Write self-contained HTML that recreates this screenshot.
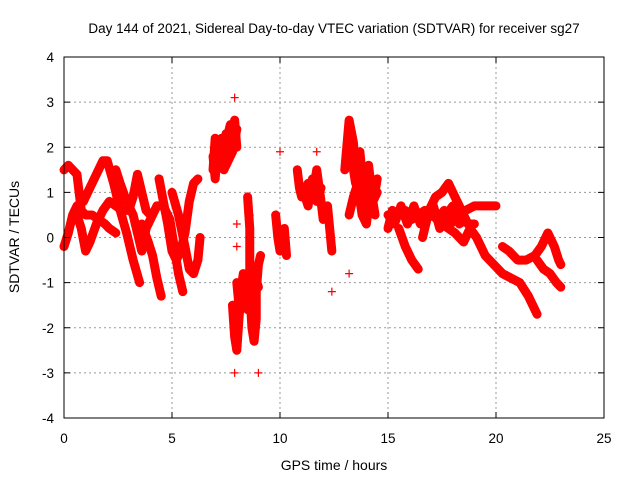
<!DOCTYPE html>
<html><head><meta charset="utf-8"><style>
body{margin:0;background:#fff}
svg{display:block;font-family:"Liberation Sans",sans-serif}
</style></head><body>
<svg id="chart" width="640" height="480" viewBox="0 0 640 480">
<text x="334" y="33" font-size="13.5" text-anchor="middle">Day 144 of 2021, Sidereal Day-to-day VTEC variation (SDTVAR) for receiver sg27</text>
<g id="grid"></g>
<g id="marks"></g>
<rect x="64" y="57" width="540" height="361" fill="none" stroke="#000" stroke-width="1"/>
<g id="ticks"></g>
<text x="334" y="470" font-size="14" text-anchor="middle">GPS time / hours</text>
<text x="19" y="237" font-size="14" text-anchor="middle" transform="rotate(-90 19 237)">SDTVAR / TECUs</text>
</svg>
<script>
const xTicks=[0,5,10,15,20,25];
const yTicks=[-4,-3,-2,-1,0,1,2,3,4];
const track1=[[0,1.5],[0.2,1.6],[0.4,1.5],[0.6,1.4],[0.7,1.0],[0.8,0.6],[1.0,0.5],[1.3,0.5],[1.6,0.4],[1.9,0.3],[2.1,0.2],[2.4,0.1]];
const track2=[[0,-0.2],[0.2,0.1],[0.4,0.5],[0.6,0.7],[0.9,0.8],[1.2,1.1],[1.5,1.4],[1.8,1.7],[2.0,1.7],[2.3,1.2],[2.6,0.6],[2.9,0.1],[3.2,-0.5],[3.5,-1.0]];
const track3=[[0.6,0.5],[0.8,0.2],[1.0,-0.3],[1.2,-0.1],[1.5,0.3],[1.8,0.6],[2.1,0.8],[2.4,0.7],[2.7,0.6],[3.0,0.6],[3.2,0.9],[3.4,1.4],[3.6,1.0],[3.8,0.6],[4.0,0.5]];
const track4=[[2.4,1.5],[2.6,1.2],[2.9,0.8],[3.2,0.5],[3.4,0.1],[3.6,-0.3],[3.8,0.2],[4.0,0.4],[4.3,0.7],[4.6,0.7],[4.9,0.4],[5.1,-0.2],[5.3,-0.8],[5.5,-1.2]];
const track5=[[3.6,0.3],[3.9,-0.1],[4.1,-0.4],[4.3,-0.9],[4.5,-1.3]];
const track6=[[4.4,1.3],[4.6,0.8],[4.8,0.3],[5.0,-0.3],[5.2,-0.5],[5.4,-0.3],[5.6,0.1],[5.8,0.8],[6.0,1.2],[6.2,1.3]];
const track7=[[5.0,1.0],[5.3,0.5],[5.6,-0.2],[5.8,-0.7],[6.0,-0.8],[6.2,-0.5],[6.3,0.0]];
const track8=[[6.9,1.8],[7.0,1.3],[7.1,2.0],[7.3,2.2],[7.5,1.9],[7.6,2.3],[7.7,2.5],[7.8,2.2],[7.9,2.6],[8.0,2.0]];
const track9=[[6.9,1.5],[7.0,2.2],[7.2,1.6],[7.4,1.5],[7.6,1.7],[7.8,1.9],[8.0,2.4]];
const track9b=[[7.0,1.9],[7.2,2.0],[7.4,1.8],[7.5,2.3],[7.7,2.0],[7.9,2.3]];
const track10=[[7.8,-1.5],[7.9,-2.2],[8.0,-2.5],[8.1,-1.8],[8.2,-1.2],[8.3,-0.8],[8.1,-1.5],[8.0,-1.0]];
const track11=[[8.5,0.9],[8.6,0.2],[8.6,-0.6],[8.6,-1.2],[8.7,-2.0],[8.8,-2.3],[8.9,-1.8],[8.9,-1.2],[9.0,-0.6],[9.1,-0.4]];
const track11b=[[8.4,-1.0],[8.5,-1.6],[8.7,-1.0],[8.8,-0.8],[9.0,-1.1]];
const track12=[[9.8,0.5],[9.9,0.0],[10.0,-0.3],[10.2,0.2],[10.3,-0.4]];
const track13=[[10.8,1.5],[10.9,1.1],[11.0,0.9],[11.3,1.2],[11.5,0.9],[11.7,1.5],[11.9,0.8],[12.0,0.4]];
const track13b=[[11.1,1.0],[11.3,0.7],[11.5,1.3],[11.7,0.8],[11.9,1.1]];
const track14=[[12.2,0.7],[12.3,0.2],[12.4,-0.3]];
const track15=[[13.0,1.5],[13.2,2.6],[13.4,2.1],[13.5,1.5],[13.6,0.8],[13.8,1.6],[14.0,1.2],[14.2,0.6],[14.4,1.0],[14.5,1.3]];
const track16=[[13.2,0.5],[13.4,0.9],[13.6,1.2],[13.8,0.5],[14.0,0.3],[14.2,1.1],[14.4,0.5]];
const track16b=[[13.3,1.8],[13.5,1.2],[13.7,1.9],[13.9,0.9],[14.1,1.6],[14.3,0.8],[14.5,1.0]];
const track17=[[15.0,0.2],[15.2,0.6],[15.5,0.5],[15.8,0.6],[16.1,0.4],[16.4,0.5],[16.7,0.6],[17.0,0.5],[17.3,0.4],[17.6,0.6],[17.9,0.3],[18.2,0.5],[18.6,0.6],[19.0,0.7],[19.3,0.7],[19.7,0.7],[20.0,0.7]];
const track17b=[[15.0,0.5],[15.3,0.3],[15.6,0.7],[15.9,0.3],[16.2,0.7],[16.5,0.3],[16.8,0.4],[17.1,0.7],[17.4,0.2],[17.7,0.5],[18.0,0.7],[18.3,0.3],[18.6,0.4]];
const track18=[[15.5,0.2],[15.8,-0.2],[16.1,-0.5],[16.4,-0.7]];
const track19=[[16.6,0.0],[16.9,0.6],[17.2,0.9],[17.5,1.0],[17.8,1.2],[18.1,0.9],[18.4,0.6],[18.7,0.3],[19.0,0.3]];
const track20=[[17.5,0.3],[17.8,0.2],[18.1,0.1],[18.5,-0.1],[18.8,0.2],[19.1,0.0],[19.5,-0.4],[19.9,-0.6],[20.3,-0.8],[20.7,-0.9],[21.1,-1.0],[21.5,-1.3],[21.7,-1.5],[21.9,-1.7]];
const track21=[[20.3,-0.2],[20.6,-0.3],[21.0,-0.5],[21.4,-0.5],[21.8,-0.4],[22.1,-0.2],[22.4,0.1],[22.7,-0.2],[22.9,-0.5],[23.0,-0.6]];
const track22=[[21.9,-0.5],[22.2,-0.7],[22.5,-0.8],[22.8,-1.0],[23.0,-1.1]];
const outliers=[[7.9,3.1],[7.9,-3.0],[8.0,0.3],[8.6,0.5],[9.0,-3.0],[12.4,-1.2],[13.2,-0.8],[10.0,1.9],[11.7,1.9],[8.0,-0.2]];
const tracks=[track1,track2,track3,track4,track5,track6,track7,track8,track9,track9b,track10,track11,track11b,track12,track13,track13b,track14,track15,track16,track16b,track17,track17b,track18,track19,track20,track21,track22];

const X0=64,X1=604,Y0=418,Y1=57;
const xs=v=>X0+(v-0)/(25-0)*(X1-X0);
const ys=v=>Y0-(v+4)/8*(Y0-Y1);
const NS="http://www.w3.org/2000/svg";
const grid=document.getElementById('grid'),ticks=document.getElementById('ticks'),marks=document.getElementById('marks');
function mk(tag,attrs,parent){const e=document.createElementNS(NS,tag);for(const k in attrs)e.setAttribute(k,attrs[k]);parent.appendChild(e);return e;}
xTicks.forEach(t=>{
 const x=xs(t);
 if(t>0&&t<25){const g=mk('line',{x1:x,x2:x,y1:Y1,y2:Y0,stroke:'#999','stroke-dasharray':'2,3'},grid);
 
 }
 mk('line',{x1:x,x2:x,y1:Y0,y2:Y0-6,stroke:'#000'},ticks);
 mk('line',{x1:x,x2:x,y1:Y1,y2:Y1+6,stroke:'#000'},ticks);
 const l=mk('text',{x:x,y:443,'font-size':13.5,'text-anchor':'middle'},ticks);l.textContent=t;
 
 
});
yTicks.forEach(t=>{
 const y=ys(t);
 if(t>-4&&t<4){const g=mk('line',{x1:X0,x2:X1,y1:y,y2:y,stroke:'#999','stroke-dasharray':'2,3'},grid);
 
 }
 mk('line',{x1:X0,x2:X0+6,y1:y,y2:y,stroke:'#000'},ticks);
 mk('line',{x1:X1,x2:X1-6,y1:y,y2:y,stroke:'#000'},ticks);
 const l=mk('text',{x:54,y:y+5,'font-size':13.5,'text-anchor':'end'},ticks);l.textContent=t;
 
 
});
function plus(p,parent,col){
 const x=xs(p[0]),y=ys(p[1]);
 const m=mk('path',{d:`M${x-4} ${y}H${x+4}M${x} ${y-4}V${y+4}`,stroke:col,'stroke-width':1.2,fill:'none'},parent);
 
 
}
tracks.forEach(tr=>{
 const pl=mk('polyline',{points:tr.map(p=>xs(p[0])+','+ys(p[1])).join(' '),stroke:'#f00','stroke-width':9,fill:'none','stroke-linejoin':'round','stroke-linecap':'round'},marks);
 
 
 tr.forEach(p=>plus(p,marks,'#f00'));
});
outliers.forEach(p=>plus(p,marks,'#f00'));
</script>
</body></html>
